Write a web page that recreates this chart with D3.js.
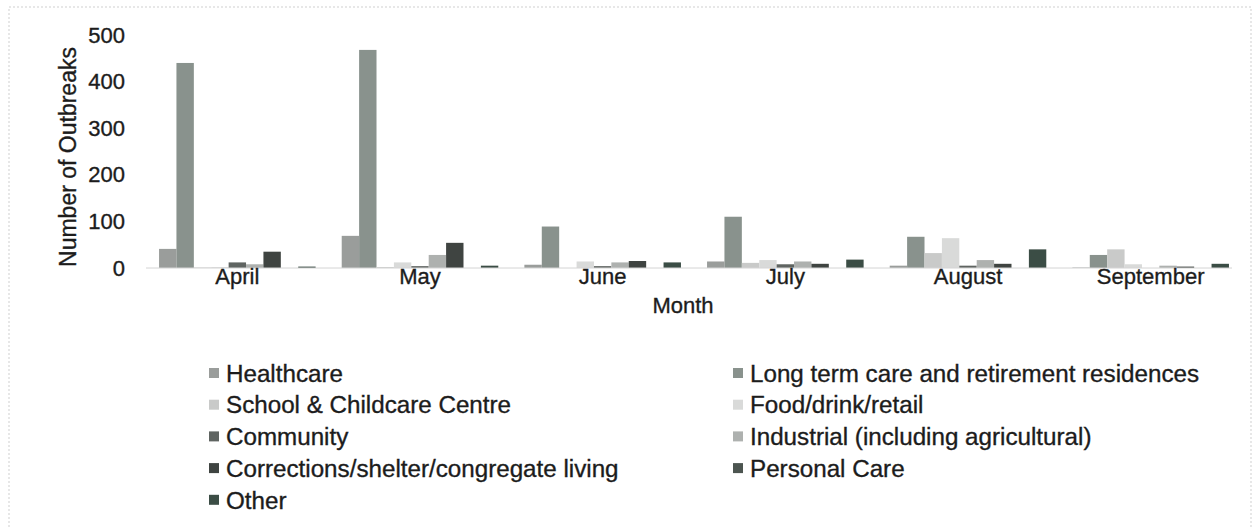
<!DOCTYPE html>
<html>
<head>
<meta charset="utf-8">
<script src="https://cdn.jsdelivr.net/npm/d3@7"></script>
<style>
  body { margin: 0; background: #fff; }
  svg { font-family: "Liberation Sans", Arial, sans-serif; }
  text { fill: #1c1c1c; stroke: #1c1c1c; stroke-width: 0.35px; }
</style>
</head>
<body>
<script>
// outbreaks by setting and month

var months = ["April", "May", "June", "July", "August", "September"];

var settings = [
  "Healthcare",
  "Long term care and retirement residences",
  "School & Childcare Centre",
  "Food/drink/retail",
  "Community",
  "Industrial (including agricultural)",
  "Corrections/shelter/congregate living",
  "Personal Care",
  "Other"
];

// values per setting, April..September
var healthcare  = [41, 69, 7, 14, 5, 1],
    longTerm    = [440, 468, 89, 110, 67, 28],
    school      = [1, 2, 0, 11, 32, 40],
    food        = [2, 12, 14, 17, 64, 8],
    community   = [12, 4, 4, 8, 5, 0],
    industrial  = [8, 28, 12, 14, 17, 5],
    corrections = [35, 54, 15, 9, 9, 3],
    personal    = [0, 0, 0, 0, 0, 0],
    other       = [3, 5, 12, 18, 40, 9];

var seriesValues = [healthcare, longTerm, school, food, community, industrial, corrections, personal, other];

var yTicks = [0, 100, 200, 300, 400, 500];

var colors = ["#9a9d9b", "#89928d", "#c9cac9", "#d9dad9", "#5f6461", "#aeb1af", "#3f4441", "#4c5550", "#3b4d45"];

var width = 1255,
    height = 529;

var svg = d3.select("body").append("svg")
    .attr("width", width)
    .attr("height", height);

// faint scanned frame
svg.append("rect")
    .attr("x", 9).attr("y", 7)
    .attr("width", 1242).attr("height", 540)
    .attr("fill", "none")
    .attr("stroke", "#cfcfcf")
    .attr("stroke-width", 1)
    .attr("stroke-dasharray", "2,2");

var x0 = d3.scaleBand().domain(months).range([146, 1242]);
var x1 = d3.scaleBand().domain(d3.range(settings.length))
    .range([0, x0.bandwidth()])
    .paddingOuter(0.75);
var y = d3.scaleLinear().domain([0, 500]).range([268, 35]);

// bars
var groups = svg.selectAll(".month")
    .data(months)
  .enter().append("g")
    .attr("class", "month")
    .attr("transform", function(d) { return "translate(" + x0(d) + ",0)"; });

groups.selectAll("rect")
    .data(function(m, mi) { return seriesValues.map(function(s, si) { return {si: si, v: s[mi]}; }); })
  .enter().append("rect")
    .attr("x", function(d) { return x1(d.si); })
    .attr("width", x1.bandwidth())
    .attr("y", function(d) { return y(d.v); })
    .attr("height", function(d) { return y(0) - y(d.v); })
    .attr("fill", function(d) { return colors[d.si]; });

// baseline
svg.append("line")
    .attr("x1", 146).attr("x2", 1232)
    .attr("y1", y(0)).attr("y2", y(0))
    .attr("stroke", "#d4d4d4")
    .attr("stroke-width", 1);

// y axis
var yAxis = svg.append("g")
    .attr("transform", "translate(135,0)")
    .call(d3.axisLeft(y).tickValues(yTicks).tickSize(0).tickPadding(10));
yAxis.select(".domain").remove();
yAxis.selectAll("text").style("font-size", "22px");

// x axis
var xAxis = svg.append("g")
    .attr("transform", "translate(0," + y(0) + ")")
    .call(d3.axisBottom(x0).tickSize(0).tickPadding(0));
xAxis.select(".domain").remove();
xAxis.selectAll("text").style("font-size", "22px");

// axis titles
svg.append("text")
    .attr("transform", "translate(76,157) rotate(-90)")
    .attr("text-anchor", "middle")
    .style("font-size", "23px")
    .text("Number of Outbreaks");

svg.append("text")
    .attr("x", 683).attr("y", 313)
    .attr("text-anchor", "middle")
    .style("font-size", "22px")
    .text("Month");

// legend, two columns
var legend = svg.selectAll(".legend")
    .data(settings)
  .enter().append("g")
    .attr("class", "legend")
    .attr("transform", function(d, i) {
      var col = i % 2, row = Math.floor(i / 2);
      return "translate(" + (col ? 733 : 209) + "," + (373 + row * 31.7) + ")";
    });

legend.append("rect")
    .attr("x", 0).attr("y", -5)
    .attr("width", 10).attr("height", 10)
    .attr("fill", function(d, i) { return colors[i]; });

legend.append("text")
    .attr("x", 17).attr("dy", "0.36em")
    .style("font-size", "24.2px")
    .text(function(d) { return d; });
</script>
</body>
</html>
